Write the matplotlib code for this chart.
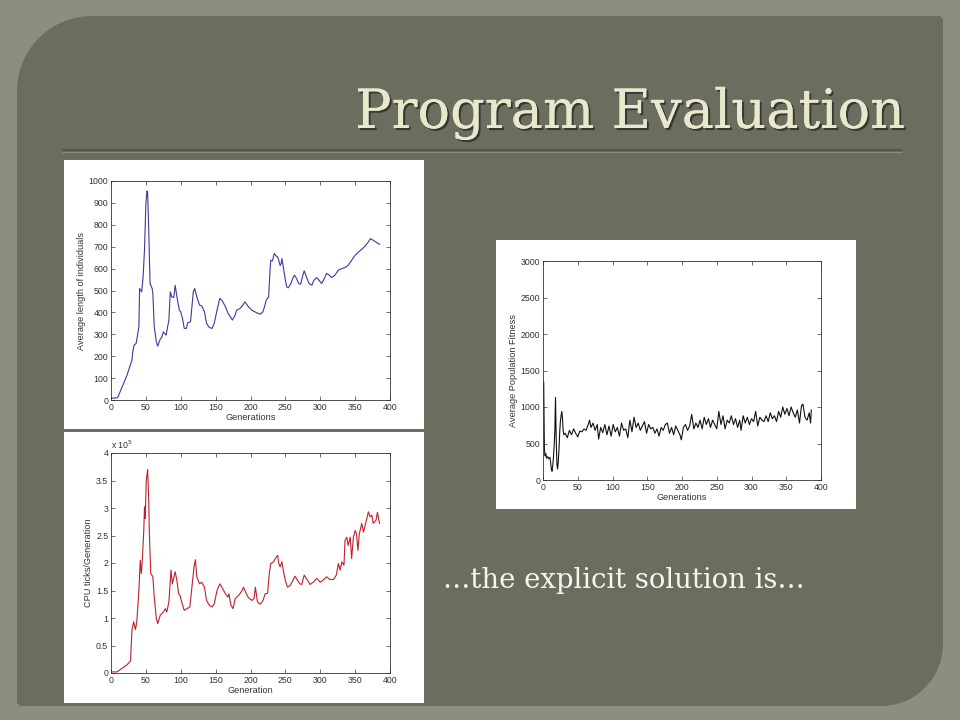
import numpy as np
import matplotlib
matplotlib.use("Agg")
import matplotlib.pyplot as plt
from matplotlib.path import Path
from matplotlib.patches import PathPatch, Rectangle
import matplotlib.patheffects as pe

# ---------------- data ----------------
len_gen = [0, 8.6, 10, 23, 30, 31, 33, 36, 40, 41, 44, 46, 48, 50, 51.5, 52.5, 54, 56, 59, 60, 62, 65, 67, 70,
           73, 75, 79, 83, 85, 87, 90, 92, 94.5, 98, 100, 103, 105, 108, 110, 114, 116, 118, 120, 123, 127, 130,
           134, 137, 141, 145, 148, 152, 156, 159, 164, 168, 174, 178, 180, 185, 189, 192, 197, 202, 209, 214,
           218, 220, 223, 226, 228, 229, 231.5, 234, 237, 239, 240.5, 242.5, 244, 245, 247, 250, 252, 254, 258,
           260.5, 263, 266, 269, 272, 275, 277, 281, 284, 288, 291, 295, 299, 302, 306, 309, 313, 316, 321, 326,
           331, 335.5, 340, 345, 350, 355, 359, 364, 369, 372, 376, 381, 385]
len_val = [8, 10, 14, 114, 182, 215, 250, 258, 334, 509, 494, 562, 684, 897, 954, 950, 790, 532, 509, 486, 334,
           266, 246, 274, 289, 311, 296, 365, 494, 471, 468, 524, 471, 410, 403, 365, 327, 327, 353, 357, 426,
           494, 509, 471, 433, 430, 403, 350, 331, 327, 350, 410, 464, 456, 426, 395, 365, 388, 410, 418, 433,
           448, 426, 410, 398, 392, 403, 426, 459, 471, 593, 638, 635, 669, 657, 653, 638, 614, 623, 646, 608,
           547, 517, 512, 532, 555, 570, 555, 532, 529, 570, 590, 555, 532, 524, 547, 559, 544, 532, 555, 578,
           570, 559, 570, 593, 600, 605, 615, 638, 661, 676, 687, 702, 722, 737, 729, 719, 711]

cpu_gen = [0, 8.6, 13, 23, 28, 30, 32.5, 35, 37, 40, 42, 43.4, 45, 47, 48, 49, 50.6, 52.5, 54, 55, 57, 60, 62,
           65, 67, 70.6, 75, 78, 80, 83, 86, 88, 92, 94.5, 97, 99, 102, 105, 109, 113, 116, 119, 121, 123, 127,
           130, 134, 137, 141, 145, 148, 152, 156, 159, 164, 167.5, 169, 172, 175, 178, 183, 188, 190, 194, 197,
           202, 205, 207, 210, 214, 218, 221, 224.5, 227, 229, 233, 237, 239, 240.5, 242.5, 245, 247, 250, 253,
           257, 260.5, 264, 267, 271, 273.5, 277, 281, 285.5, 290, 295, 300, 305, 309, 314, 319, 323, 326,
           328.5, 331, 334, 335.5, 338, 340, 343, 345, 347.5, 350, 352, 354, 356, 359.5, 362, 366, 369, 371.5,
           374, 376, 380, 382, 385]
cpu_val_e5 = [0.02, 0.02, 0.06, 0.15, 0.22, 0.78, 0.93, 0.79, 0.93, 1.50, 2.05, 1.81, 2.08, 2.59, 3.02, 2.81,
              3.50, 3.70, 3.20, 2.53, 1.81, 1.75, 1.38, 0.99, 0.90, 1.05, 1.11, 1.17, 1.11, 1.29, 1.87, 1.62,
              1.84, 1.68, 1.44, 1.41, 1.26, 1.14, 1.17, 1.20, 1.56, 1.93, 2.06, 1.75, 1.62, 1.65, 1.56, 1.32,
              1.23, 1.20, 1.26, 1.50, 1.62, 1.56, 1.44, 1.38, 1.44, 1.23, 1.17, 1.35, 1.41, 1.50, 1.56, 1.44,
              1.37, 1.32, 1.35, 1.56, 1.29, 1.25, 1.32, 1.44, 1.45, 1.81, 1.99, 2.02, 2.11, 2.14, 1.99, 1.93,
              2.02, 1.87, 1.68, 1.56, 1.59, 1.68, 1.76, 1.69, 1.62, 1.61, 1.78, 1.70, 1.61, 1.65, 1.72, 1.65,
              1.70, 1.75, 1.70, 1.70, 1.78, 1.99, 1.87, 2.02, 1.96, 2.41, 2.47, 2.32, 2.47, 2.08, 2.47, 2.59,
              2.53, 2.23, 2.53, 2.72, 2.56, 2.77, 2.93, 2.84, 2.87, 2.72, 2.78, 2.92, 2.72]

fit_gen = [1, 2, 3, 4, 5, 7, 8, 10, 11, 12, 13, 14, 15, 16, 17, 18, 19, 20, 21, 22, 23, 24, 25, 26, 27, 28, 29,
           30, 32, 35, 38, 41, 44, 47, 50, 53, 56, 59, 62, 65, 67, 69, 72, 75, 78, 80, 83, 86, 89, 92, 95, 98,
           101, 104, 107, 110, 113, 116, 119, 122, 125, 128, 131, 134, 137, 140, 143, 146, 149, 152, 155, 158,
           161, 164, 167, 170, 173, 176, 179, 182, 185, 188, 191, 194, 197, 199, 202, 205, 208, 211, 214, 217,
           220, 223, 226, 229, 232, 235, 238, 241, 244, 247, 250, 253, 256, 259, 262, 265, 268, 271, 274, 277,
           280, 283, 285, 288, 291, 294, 297, 300, 303, 306, 309, 312, 315, 318, 321, 324, 327, 330, 333, 336,
           339, 342, 345, 348, 351, 354, 357, 360, 363, 366, 369, 372, 374, 377, 380, 383, 385, 386]
fit_val = [1340, 420, 330, 360, 300, 320, 290, 310, 240, 150, 120, 200, 300, 460, 660, 1130, 560, 220, 150, 250,
           420, 650, 800, 880, 940, 850, 680, 620, 640, 580, 680, 620, 700, 640, 590, 670, 660, 700, 680, 760,
           820, 720, 780, 680, 760, 560, 720, 650, 760, 620, 740, 600, 760, 660, 720, 600, 780, 680, 700, 580,
           820, 660, 860, 720, 780, 680, 740, 800, 640, 760, 700, 720, 640, 700, 600, 720, 680, 760, 780, 640,
           720, 620, 740, 680, 620, 550, 720, 760, 680, 740, 900, 700, 780, 720, 820, 700, 860, 760, 840, 720,
           820, 760, 700, 940, 760, 880, 700, 820, 780, 880, 760, 840, 720, 820, 680, 880, 780, 860, 760, 840,
           800, 940, 740, 860, 820, 800, 880, 800, 920, 840, 880, 800, 940, 860, 1000, 900, 980, 880, 1000, 920,
           860, 960, 780, 1020, 1040, 860, 820, 920, 780, 960]

TITLE = "Program Evaluation"
SUBTITLE = "\u2026the explicit solution is\u2026"

# ---------------- figure ----------------
W, H = 960, 720
fig = plt.figure(figsize=(9.6, 7.2), dpi=100)
fig.patch.set_facecolor("#8c8f80")

bg = fig.add_axes([0, 0, 1, 1])
bg.set_xlim(0, W)
bg.set_ylim(H, 0)
bg.axis("off")

# panel with rounded top-left and bottom-right corners
L, T, R, B = 17, 16, 941, 704
r1, r2 = 75, 62
verts = []
a = np.linspace(np.pi, 1.5 * np.pi, 30)
verts += [(L + r1 + r1 * np.cos(t), T + r1 + r1 * np.sin(t)) for t in a]
verts += [(R, T)]
a = np.linspace(0, 0.5 * np.pi, 30)
verts += [(R - r2 + r2 * np.cos(t), B - r2 + r2 * np.sin(t)) for t in a]
verts += [(L, B)]
verts += [verts[0]]
codes = [Path.MOVETO] + [Path.LINETO] * (len(verts) - 2) + [Path.CLOSEPOLY]
shadow = PathPatch(Path([(x + 2, y + 2) for x, y in verts], codes), facecolor="#55574b",
                   edgecolor="none", alpha=0.6)
bg.add_patch(shadow)
bg.add_patch(PathPatch(Path(verts, codes), facecolor="#6b6d5f", edgecolor="none"))

# title rule
bg.plot([62, 902], [150, 150], color="#4f5a4a", lw=1.6, solid_capstyle="butt")
bg.plot([62, 902], [152, 152], color="#8e917f", lw=0.7, solid_capstyle="butt")

# title
bg.text(905, 128, TITLE, ha="right", va="baseline", fontsize=39, family="DejaVu Serif",
        color="#e9e8cc",
        path_effects=[pe.withSimplePatchShadow(offset=(1.5, -1.5), shadow_rgbFace="#222222", alpha=0.7),
                      pe.Normal()])

bg.text(443, 588, SUBTITLE, ha="left", va="baseline", fontsize=19.8, family="DejaVu Serif",
        color="#f6f6ee")

# white image panels
for (x0, y0, x1, y1) in [(64, 160, 424, 429), (64, 432, 424, 703), (496, 240, 856, 509)]:
    bg.add_patch(Rectangle((x0, y0), x1 - x0, y1 - y0, facecolor="white", edgecolor="none"))

FONT = "Liberation Sans"
TS = 6.3


def ax_at(x0, y0, x1, y1):
    ax = fig.add_axes([x0 / W, 1 - y1 / H, (x1 - x0) / W, (y1 - y0) / H])
    ax.set_facecolor("white")
    for s in ax.spines.values():
        s.set_linewidth(0.6)
        s.set_color("#333333")
    ax.tick_params(direction="in", top=True, right=True, length=3, width=0.5,
                   labelsize=TS, colors="#333333", pad=2)
    return ax


def style_labels(ax, xl, yl):
    ax.set_xlabel(xl, fontsize=TS + 0.3, family=FONT, color="#333333", labelpad=1)
    ax.set_ylabel(yl, fontsize=TS + 0.3, family=FONT, color="#333333", labelpad=2)
    for lab in ax.get_xticklabels() + ax.get_yticklabels():
        lab.set_family(FONT)


ax1 = ax_at(111, 181, 390, 400)
ax1.plot(len_gen, len_val, color="#3a3a9c", lw=0.8)
ax1.set_xlim(0, 400)
ax1.set_ylim(0, 1000)
ax1.set_xticks(np.arange(0, 401, 50))
ax1.set_yticks(np.arange(0, 1001, 100))
style_labels(ax1, "Generations", "Average length of individuals")

ax2 = ax_at(111, 453, 390, 673)
ax2.plot(cpu_gen, cpu_val_e5, color="#c0202c", lw=0.8)
ax2.set_xlim(0, 400)
ax2.set_ylim(0, 4)
ax2.set_xticks(np.arange(0, 401, 50))
ax2.set_yticks(np.arange(0, 4.01, 0.5))
ax2.set_yticklabels(["0", "0.5", "1", "1.5", "2", "2.5", "3", "3.5", "4"])
style_labels(ax2, "Generation", "CPU ticks/Generation")
ax2.text(0.0, 1.01, r"x 10$^{5}$", transform=ax2.transAxes, fontsize=TS, family=FONT,
         color="#333333", ha="left", va="bottom")

ax3 = ax_at(543, 261, 821, 480)
ax3.plot(fit_gen, fit_val, color="#111111", lw=0.8)
ax3.set_xlim(0, 400)
ax3.set_ylim(0, 3000)
ax3.set_xticks(np.arange(0, 401, 50))
ax3.set_yticks(np.arange(0, 3001, 500))
style_labels(ax3, "Generations", "Average Population Fitness")

fig.savefig("out.png", dpi=100, facecolor=fig.get_facecolor())
